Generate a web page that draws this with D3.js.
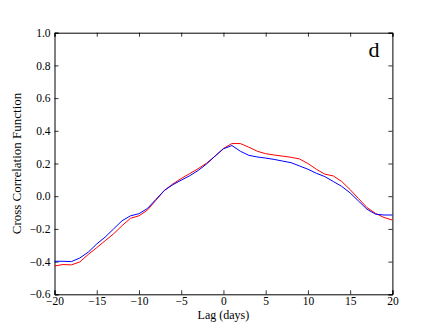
<!DOCTYPE html>
<html>
<head>
<meta charset="utf-8">
<style>
  body { margin: 0; background: #fff; }
  text { font-family: "Liberation Serif", "DejaVu Serif", serif; }
</style>
</head>
<body>
<script src="https://d3js.org/d3.v7.min.js"></script>
<script>
var w = 436;
var h = 327;

// lag in days
var lags = d3.range(-20, 21);

var blueValues = [
  -0.398, -0.398, -0.400, -0.378, -0.342, -0.292, -0.250, -0.200, -0.150, -0.120,
  -0.107, -0.075, -0.020, 0.035, 0.070, 0.098, 0.125, 0.157, 0.197, 0.245,
  0.290, 0.310, 0.275, 0.250, 0.240, 0.233, 0.225, 0.215, 0.205, 0.185,
  0.165, 0.140, 0.120, 0.090, 0.060, 0.020, -0.030, -0.080, -0.110, -0.115,
  -0.115
];

var redValues = [
  -0.427, -0.418, -0.420, -0.402, -0.356, -0.315, -0.272, -0.230, -0.180, -0.135,
  -0.120, -0.085, -0.025, 0.035, 0.075, 0.108, 0.138, 0.168, 0.202, 0.245,
  0.292, 0.322, 0.322, 0.300, 0.275, 0.260, 0.252, 0.245, 0.238, 0.228,
  0.200, 0.165, 0.135, 0.124, 0.090, 0.040, -0.015, -0.070, -0.105, -0.130,
  -0.146
];

var xTicks = [-20, -15, -10, -5, 0, 5, 10, 15, 20];
var yTicks = [-0.6, -0.4, -0.2, 0.0, 0.2, 0.4, 0.6, 0.8, 1.0];

var margin = {left: 54.5, right: 43.6, top: 32.7, bottom: 32.7};

var svg = d3.select('body')
            .append('svg')
            .attr('width', w)
            .attr('height', h);

var x = d3.scaleLinear().domain([-20, 20]).range([margin.left, w - margin.right]);
var y = d3.scaleLinear().domain([-0.6, 1.0]).range([h - margin.bottom, margin.top]);

var fmtY = d3.format('.1f');
var minus = function(s) { return String(s).replace('-', '\u2212'); };

// axes with inward ticks
svg.append('g')
   .attr('transform', 'translate(0,' + y(-0.6) + ')')
   .call(d3.axisBottom(x).tickValues(xTicks).tickSize(-4).tickPadding(3).tickFormat(d => minus(d)));
svg.append('g')
   .attr('transform', 'translate(0,' + y(1.0) + ')')
   .call(d3.axisTop(x).tickValues(xTicks).tickSize(-4).tickFormat(''));
svg.append('g')
   .attr('transform', 'translate(' + x(-20) + ',0)')
   .call(d3.axisLeft(y).tickValues(yTicks).tickSize(-4).tickPadding(4).tickFormat(d => minus(fmtY(d))));
svg.append('g')
   .attr('transform', 'translate(' + x(20) + ',0)')
   .call(d3.axisRight(y).tickValues(yTicks).tickSize(-4).tickFormat(''));

svg.selectAll('.domain').attr('stroke', '#000').attr('stroke-width', 1);
svg.selectAll('.tick line').attr('stroke', '#000').attr('stroke-width', 0.8);
svg.selectAll('.tick text')
   .attr('fill', '#000')
   .style('font-family', '"Liberation Serif", serif')
   .style('font-size', '11.5px');

var line = function(vals) {
  return d3.line()
           .x((d, i) => x(lags[i]))
           .y(d => y(d))(vals);
};

svg.append('path')
   .attr('d', line(redValues))
   .attr('fill', 'none')
   .attr('stroke', '#ff0000')
   .attr('stroke-width', 1);

svg.append('path')
   .attr('d', line(blueValues))
   .attr('fill', 'none')
   .attr('stroke', '#0000ff')
   .attr('stroke-width', 1);

// labels
svg.append('text')
   .attr('x', (x(-20) + x(20)) / 2)
   .attr('y', 319)
   .attr('text-anchor', 'middle')
   .style('font-size', '12px')
   .text('Lag (days)');

svg.append('text')
   .attr('transform', 'translate(21,' + ((y(-0.6) + y(1.0)) / 2) + ') rotate(-90)')
   .attr('text-anchor', 'middle')
   .style('font-size', '13px')
   .text('Cross Correlation Function');

svg.append('text')
   .attr('x', 374)
   .attr('y', 57)
   .attr('text-anchor', 'middle')
   .style('font-size', '22px')
   .text('d');
</script>
</body>
</html>
